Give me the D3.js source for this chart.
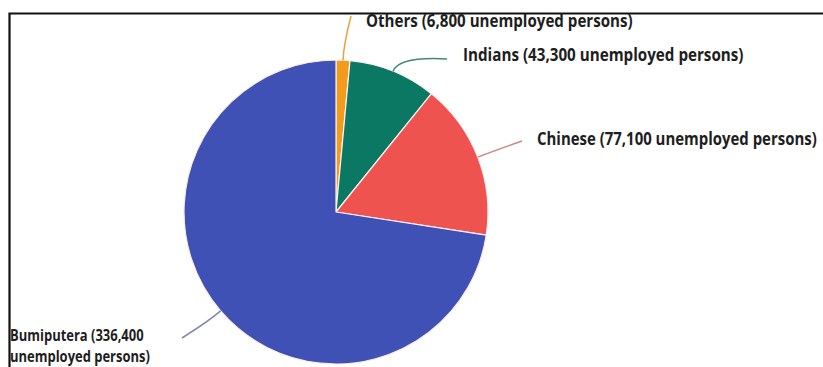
<!DOCTYPE html>
<html>
<head>
<meta charset="utf-8">
<script src="https://cdn.jsdelivr.net/npm/d3@7"></script>
<style>
  html, body { margin: 0; padding: 0; background: #fff; }
  svg { display: block; }
  .lbl { font-family: "Open Sans", "DejaVu Sans", sans-serif; font-weight: 700; fill: #1e1e1e; }
</style>
</head>
<body>
<svg id="chart" width="823" height="367"></svg>
<script>
// ---- data ----
const categories = ["Others", "Indians", "Chinese", "Bumiputera"];
const values = [6800, 43300, 77100, 336400];
const labelLines = [
  ["Others (6,800 unemployed persons)"],
  ["Indians (43,300 unemployed persons)"],
  ["Chinese (77,100 unemployed persons)"],
  ["Bumiputera (336,400", "unemployed persons)"]
];
const colors = ["#f39c1b", "#0a7862", "#ef5350", "#3f51b5"];
const lineColors = ["#e9a23a", "#3f8a7a", "#c98a8a", "#7f86b0"];

// ---- layout ----
const cx = 336, cy = 212, R = 152;
const svg = d3.select("#chart");

// frame
svg.append("path")
  .attr("d", `M9.5,367 L9.5,13.5 L823,13.5`)
  .attr("fill", "none").attr("stroke", "#111").attr("stroke-width", 2.2);

const pie = d3.pie().sort(null).value(d => d.v);
const data = categories.map((c, i) => ({ c, v: values[i], i }));
const arcs = pie(data);
const arc = d3.arc().innerRadius(0).outerRadius(R);

const g = svg.append("g").attr("transform", `translate(${cx},${cy})`);
g.selectAll("path.slice").data(arcs).enter().append("path")
  .attr("class", "slice")
  .attr("d", arc)
  .attr("fill", d => colors[d.data.i])
  .attr("stroke", "#fbeff2").attr("stroke-width", 1.2).attr("stroke-linejoin", "round");

// label placement (layout only)
const labelPos = [
  { x: 366, y: 27, w: 267, fs: 17, end: [351, 16] },
  { x: 463, y: 61, w: 281, fs: 17, end: [447, 59] },
  { x: 537, y: 145, w: 280, fs: 17, end: [522, 141] },
  { x: 10, y: 341, w: 140, fs: 15.5, end: [182, 338], dy: 21 }
];

arcs.forEach((a, k) => {
  const mid = (a.startAngle + a.endAngle) / 2;
  const p0 = [cx + R * Math.sin(mid), cy - R * Math.cos(mid)];
  const p1 = [cx + (R + 16) * Math.sin(mid), cy - (R + 16) * Math.cos(mid)];
  const lp = labelPos[k];
  svg.append("path")
    .attr("d", `M${p0[0]},${p0[1]} Q${p1[0]},${p1[1]} ${lp.end[0]},${lp.end[1]}`)
    .attr("fill", "none")
    .attr("stroke", lineColors[a.data.i])
    .attr("stroke-width", 1.5);
  const txt = svg.append("text").attr("class", "lbl").attr("font-size", lp.fs);
  labelLines[a.data.i].forEach((t, j) => {
    txt.append("tspan").attr("x", 0).attr("y", j * (lp.dy || 0)).text(t);
  });
  const natural = txt.node().getBBox().width;
  const sx = lp.w / natural;
  txt.attr("transform", `translate(${lp.x},${lp.y}) scale(${sx},1)`);
});
</script>
</body>
</html>
